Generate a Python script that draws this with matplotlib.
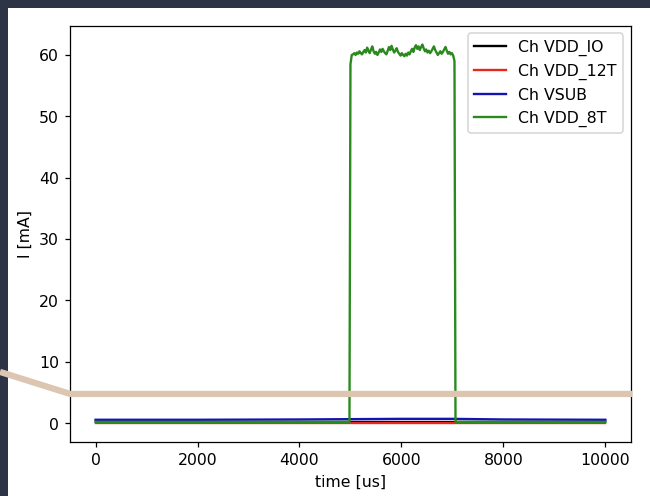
import matplotlib
matplotlib.use("Agg")
import matplotlib.pyplot as plt
from matplotlib.patches import Rectangle
from matplotlib.lines import Line2D

# ---- data ----
t_base = [0, 2000, 4000, 5000, 6000, 7000, 8000, 10000]
i_vdd_io = [0.15, 0.15, 0.15, 0.15, 0.15, 0.15, 0.15, 0.15]
i_vdd_12t = [0.02, 0.02, 0.02, 0.02, 0.02, 0.02, 0.02, 0.02]
i_vsub = [0.55, 0.55, 0.6, 0.65, 0.7, 0.7, 0.6, 0.55]

t_8t_pre = [0, 2000, 4000, 4980]
i_8t_pre = [0.2, 0.2, 0.2, 0.2]
t_8t_rise = [5000, 5025]
i_8t_rise = [58.5, 60.0]
plateau = [60.1, 60.3, 60.0, 60.4, 60.2, 60.6, 60.3, 60.1, 60.5, 60.8,
           60.4, 61.2, 60.7, 60.3, 60.9, 61.4, 60.6, 60.2, 60.5, 60.0,
           60.4, 60.9, 60.5, 61.0, 60.6, 60.3, 60.1, 60.7, 61.3, 60.8,
           61.5, 60.9, 60.4, 60.7, 61.1, 60.5, 60.2, 59.9, 60.3, 60.0,
           59.8, 60.2, 59.9, 60.4, 60.1, 60.6, 61.0, 60.5, 61.2, 61.6,
           61.0, 61.4, 60.8, 61.3, 61.7, 61.1, 60.6, 60.9, 60.4, 60.7,
           60.3, 60.6, 61.0, 61.4, 60.8, 60.4, 60.0, 60.3, 60.6, 60.2,
           60.5, 60.9, 61.3, 60.7, 60.2, 60.5, 60.1, 60.3, 59.9]
t_8t_fall = [7040, 7060]
i_8t_fall = [59.0, 0.3]
t_8t_post = [7080, 8000, 10000]
i_8t_post = [0.2, 0.2, 0.2]

labels = ["Ch VDD_IO", "Ch VDD_12T", "Ch VSUB", "Ch VDD_8T"]
xlabel = "time [us]"
ylabel = "I [mA]"

# build green series
step = (7040 - 5025) / (len(plateau) + 1)
t_plat = [5025 + step * (k + 1) for k in range(len(plateau))]
t_8t = t_8t_pre + t_8t_rise + t_plat + t_8t_fall + t_8t_post
i_8t = i_8t_pre + i_8t_rise + plateau + i_8t_fall + i_8t_post

W, H = 650, 496
DPI = 113
fig = plt.figure(figsize=((W + 0.4) / DPI, (H + 0.4) / DPI), dpi=DPI)
fig.patch.set_facecolor("#2c3446")
fig.patches.append(Rectangle((8 / W, 0), 1 - 8 / W, (H - 8) / H,
                             transform=fig.transFigure, facecolor="white",
                             edgecolor="none", zorder=-5))

ax = fig.add_axes([70 / W, 54 / H, (630.5 - 70) / W, (442 - 26) / H])
ax.set_zorder(1)
ax.patch.set_alpha(0)
ax.plot(t_base, i_vdd_io, color="black", lw=1.5, label=labels[0])
ax.plot(t_base, i_vdd_12t, color="#e8281e", lw=1.5, label=labels[1])
ax.plot(t_base, i_vsub, color="#1414b4", lw=1.5, label=labels[2])
ax.plot(t_8t, i_8t, color="#2a8a1e", lw=1.5, label=labels[3])
ax.set_xlabel(xlabel)
ax.set_ylabel(ylabel)
ax.set_yticks([0, 10, 20, 30, 40, 50, 60])
ax.set_xticks([0, 2000, 4000, 6000, 8000, 10000])
ax.legend(loc="upper right")

# overlay annotation line (screenshot markup)
xs = [0 / W, 70 / W, 632 / W]
ys = [(H - 372) / H, (H - 394) / H, (H - 394) / H]
fig.add_artist(Line2D(xs, ys, transform=fig.transFigure, color="#dcc6b2",
                      lw=4.0, solid_capstyle="butt", zorder=10))

fig.savefig("out.png", dpi=DPI, facecolor=fig.get_facecolor())
